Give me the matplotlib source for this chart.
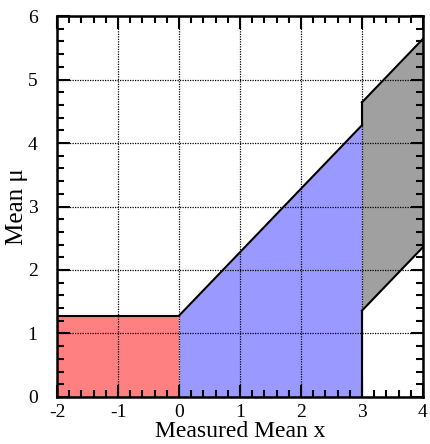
import numpy as np
import matplotlib.pyplot as plt
from matplotlib.ticker import MultipleLocator

plt.rcParams['font.family'] = ['Liberation Serif', 'DejaVu Serif']
plt.rcParams['axes.unicode_minus'] = False

# region boundaries (measured mean x, mean mu)
red_x = [-2, 0]
red_top = [1.28, 1.28]
blue_x = [0, 3]
blue_top = [1.28, 4.28]
gray_x = [3, 4]
gray_low = [1.36, 2.36]
gray_high = [4.64, 5.64]

fig = plt.figure(figsize=(4.3, 4.44), dpi=100)
ax = fig.add_axes([0.1326, 0.1059, 0.851, 0.858])

ax.fill_between(red_x, 0, red_top, color='#ff8080', lw=0, zorder=1)
ax.fill_between(blue_x, 0, blue_top, color='#9999ff', lw=0, zorder=1)
ax.fill_between(gray_x, gray_low, gray_high, color='#a0a0a0', lw=0, zorder=1)

ax.grid(True, which='major', color='black', linestyle=(0, (1, 1)), lw=0.9, zorder=2)
ax.set_axisbelow(False)

# outline of the regions
ax.plot(red_x, red_top, color='black', lw=1.5, zorder=3)
ax.plot(blue_x, blue_top, color='black', lw=1.5, zorder=3)
ax.plot(gray_x, gray_low, color='black', lw=1.5, zorder=3)
ax.plot(gray_x, gray_high, color='black', lw=1.5, zorder=3)
ax.plot([3, 3], [0, gray_low[0]], color='black', lw=1.5, zorder=3)
ax.plot([3, 3], [blue_top[1], gray_high[0]], color='black', lw=1.5, zorder=3)

ax.set_xlim(-2, 4)
ax.set_ylim(0, 6)
ax.xaxis.set_major_locator(MultipleLocator(1))
ax.xaxis.set_minor_locator(MultipleLocator(0.2))
ax.yaxis.set_major_locator(MultipleLocator(1))
ax.yaxis.set_minor_locator(MultipleLocator(0.2))
ax.tick_params(which='both', direction='in', top=True, right=True, width=1.5,
               labelsize=14, zorder=4)
ax.tick_params(axis='x', pad=5)
ax.tick_params(axis='y', pad=14)
ax.tick_params(which='major', length=9)
ax.tick_params(which='minor', length=5)
for s in ax.spines.values():
    s.set_linewidth(1.8)
    s.set_zorder(5)

ax.set_xlabel('Measured Mean x', fontsize=17, labelpad=0)
ax.set_ylabel('Mean μ', fontsize=18, labelpad=0)

fig.savefig('out.png', dpi=100)
